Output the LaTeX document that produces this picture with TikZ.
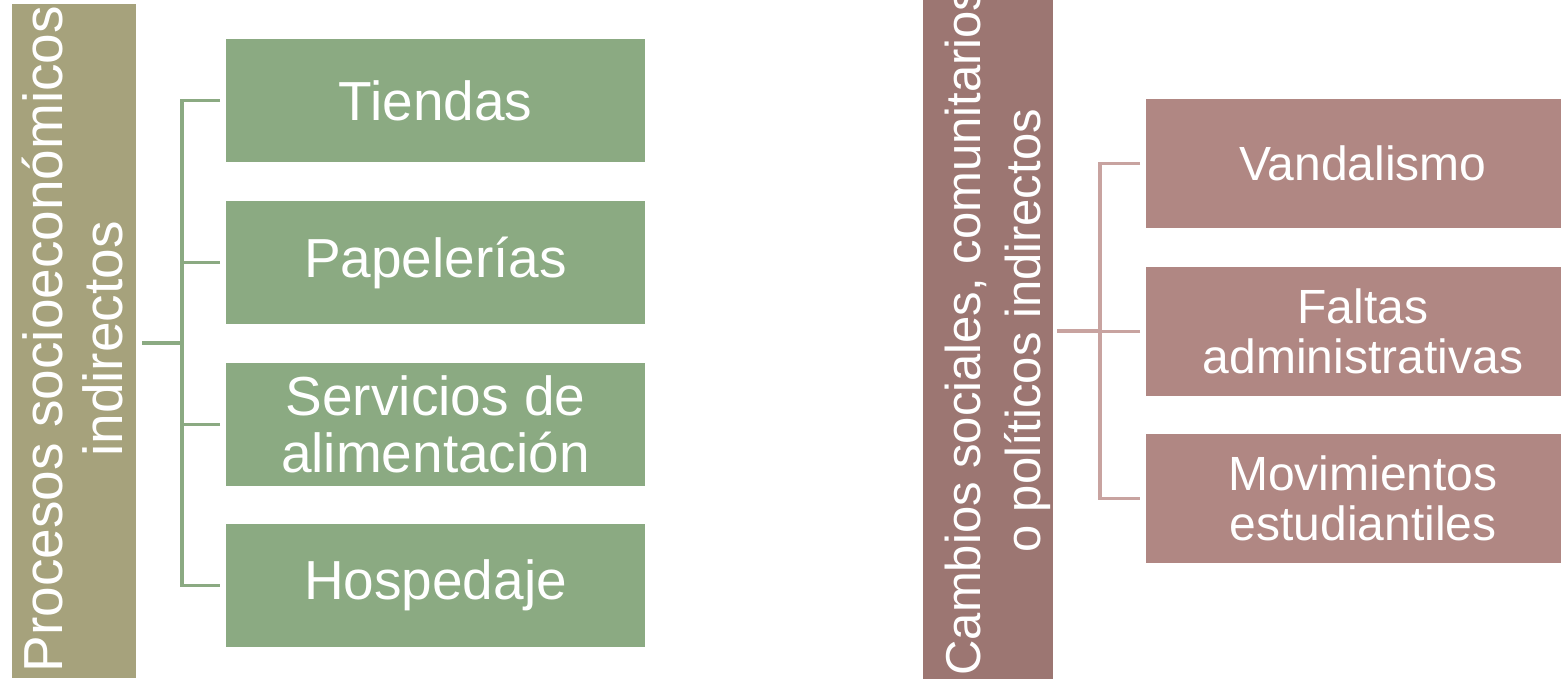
\documentclass[tikz,border=0pt]{standalone}
\usepackage{fontspec}
\setmainfont{Liberation Sans}
\definecolor{tanbox}{HTML}{A6A27C}
\definecolor{greenbox}{HTML}{8BAA82}
\definecolor{greenline}{HTML}{8BAA82}
\definecolor{mauvebox}{HTML}{9C7672}
\definecolor{pinkbox}{HTML}{B08783}
\definecolor{pinkline}{HTML}{C8A3A0}
\begin{document}
\begin{tikzpicture}[x=1pt,y=-1pt,
  titlebox/.style={inner sep=0pt, outer sep=0pt, draw=none},
  ttext/.style={rotate=90, anchor=base, inner sep=0pt, text=white},
  gbox/.style={fill=greenbox, draw=none, minimum width=419pt, minimum height=123pt, inner sep=0pt, outer sep=0pt, align=center, text=white, font=\fontsize{55}{57}\selectfont},
  pbox/.style={fill=pinkbox, draw=none, minimum width=434pt, minimum height=129pt, inner sep=0pt, outer sep=0pt, align=center, text=white, font=\fontsize{48}{50}\selectfont},
  gline/.style={draw=greenline, line width=3.6pt},
  pline/.style={draw=pinkline, line width=3.6pt}]
\clip (0,0) rectangle (1561,678);
\fill[white] (0,0) rectangle (1561,678);

% left title
\node[titlebox, fill=tanbox, minimum width=124pt, minimum height=674pt] (L) at (74,341) {};
\node[ttext, font=\fontsize{55}{60}\selectfont] (L1) at (62,339) {Procesos socioeconómicos};
\node[ttext, font=\fontsize{55}{60}\selectfont] (L2) at (122,339) {indirectos};

% green boxes
\node[gbox] (A) at (435.5,100.5) {Tiendas};
\node[gbox] (B) at (435.5,262.5) {Papelerías};
\node[gbox] (C) at (435.5,424.5) {Servicios de\\alimentación};
\node[gbox] (D) at (435.5,585.5) {Hospedaje};

\coordinate (jL) at (182,343);
\draw[gline] ([xshift=6pt]L.east |- jL) -- (jL);
\draw[gline] ([xshift=-6pt]A.west) -| (jL) |- ([xshift=-6pt]D.west);
\draw[gline] ([xshift=-6pt]B.west) -- (B.west -| jL);
\draw[gline] ([xshift=-6pt]C.west) -- (C.west -| jL);

% right title
\node[titlebox, fill=mauvebox, minimum width=130pt, minimum height=690pt] (R) at (988,339) {};
\node[ttext, font=\fontsize{49}{60}\selectfont] (R1) at (980,331) {Cambios sociales, comunitarios};
\node[ttext, font=\fontsize{49}{60}\selectfont] (R2) at (1040,331) {o políticos indirectos};

% pink boxes
\node[pbox] (E) at (1363,163.5) {Vandalismo};
\node[pbox] (F) at (1363,331.5) {Faltas\\administrativas};
\node[pbox] (G) at (1363,498.5) {Movimientos\\estudiantiles};

\coordinate (jR) at (1100,331);
\draw[pline] ([xshift=4pt]R.east |- jR) -- (jR);
\draw[pline] ([xshift=-6pt]E.west) -| (jR) |- ([xshift=-6pt]G.west);
\draw[pline] ([xshift=-6pt]F.west) -- (F.west -| jR);
\end{tikzpicture}
\end{document}
